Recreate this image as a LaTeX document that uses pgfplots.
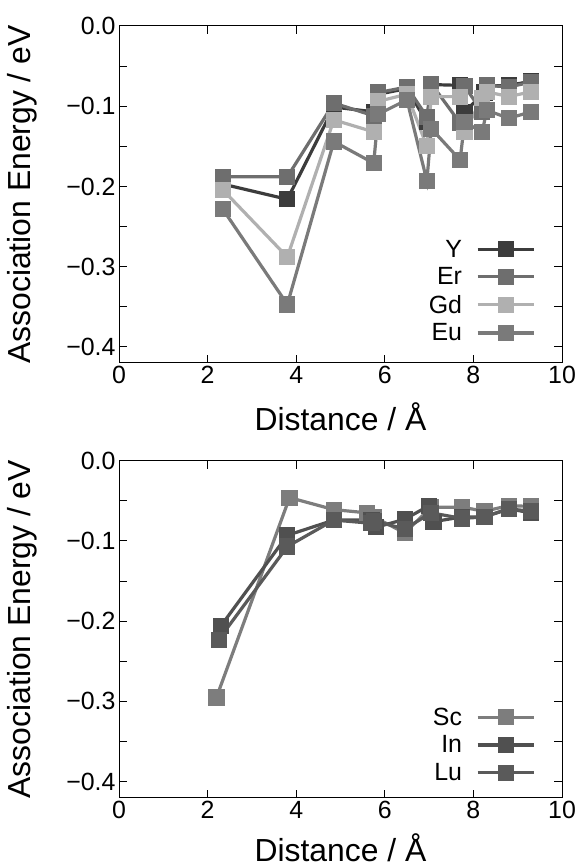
\documentclass[border=0pt]{standalone}
\usepackage{fontspec}
\setmainfont{Liberation Sans}
\usepackage{pgfplots}
\pgfplotsset{compat=1.18}

\definecolor{cY}{HTML}{3C3C3C}
\definecolor{cEr}{HTML}{6E6E6E}
\definecolor{cGd}{HTML}{B0B0B0}
\definecolor{cEu}{HTML}{7A7A7A}
\definecolor{cSc}{HTML}{7D7D7D}
\definecolor{cIn}{HTML}{505050}
\definecolor{cLu}{HTML}{5A5A5A}

\pgfplotsset{
  ceria/.style={
    width=443bp, height=337bp, scale only axis,
    xmin=0, xmax=10, ymin=-0.42, ymax=0,
    xtick={0,2,...,10},
    ytick={-0.4,-0.3,-0.2,-0.1,0},
    yticklabels={−0.4,−0.3,−0.2,−0.1,0.0},
    minor ytick={-0.35,-0.25,-0.15,-0.05},
    /pgf/number format/assume math mode=true,
    tick align=inside,
    major tick length=8bp, minor tick length=8bp,
    axis line style={line width=1bp},
    every tick/.style={line width=1bp, black},
    ticklabel style={font=\fontsize{25}{28}\selectfont},
    label style={font=\fontsize{32}{36}\selectfont},
    xlabel={Distance / Å}, ylabel={Association Energy / eV},
    x label style={at={(axis description cs:0.5,-0.16)}, anchor=center},
    y label style={at={(axis description cs:-0.219,0.5)}, anchor=center},
    legend plot pos=right,
    legend cell align=right,
    legend style={draw=none, fill=none, font=\fontsize{25}{28}\selectfont,
      row sep=5bp, anchor=south east, inner sep=0pt,
      /tikz/every odd column/.style={column sep=12bp}},
    legend image code/.code={\draw[mark repeat=2, mark phase=2, #1]
      plot coordinates {(0bp,0bp) (28bp,0bp) (56bp,0bp)};},
    every axis plot/.append style={line width=3.2bp, mark=square*, mark size=6.5bp},
  }
}

\begin{document}
\begin{tikzpicture}
\useasboundingbox (0,0) rectangle (578bp,867bp);

\begin{axis}[ceria, at={(119bp,504bp)}, anchor=south west,
  legend style={at={(axis description cs:0.94,0.055)}}]
\addplot[color=cY, mark options={fill=cY}] coordinates {
  (2.34,-0.197) (3.8,-0.216) (4.85,-0.101) (5.75,-0.107) (5.85,-0.085)
  (6.5,-0.078) (6.95,-0.120) (7.05,-0.073) (7.7,-0.074) (7.8,-0.107)
  (8.25,-0.083) (8.3,-0.075) (8.8,-0.074) (9.3,-0.069)
};
\addlegendentry{Y}
\addplot[color=cEr, mark options={fill=cEr}] coordinates {
  (2.34,-0.188) (3.8,-0.188) (4.85,-0.096) (5.75,-0.112) (5.85,-0.083)
  (6.5,-0.076) (6.95,-0.113) (7.05,-0.072) (7.7,-0.121) (7.8,-0.075)
  (8.2,-0.107) (8.3,-0.074) (8.8,-0.076) (9.3,-0.070)
};
\addlegendentry{Er}
\addplot[color=cGd, mark options={fill=cGd}] coordinates {
  (2.34,-0.204) (3.8,-0.288) (4.85,-0.117) (5.75,-0.132) (5.85,-0.094)
  (6.5,-0.085) (6.95,-0.150) (7.05,-0.088) (7.7,-0.088) (7.8,-0.132)
  (8.2,-0.090) (8.3,-0.082) (8.8,-0.088) (9.3,-0.082)
};
\addlegendentry{Gd}
\addplot[color=cEu, mark options={fill=cEu}] coordinates {
  (2.34,-0.228) (3.8,-0.347) (4.85,-0.144) (5.75,-0.171) (5.85,-0.110)
  (6.5,-0.092) (6.95,-0.193) (7.05,-0.128) (7.7,-0.167) (7.8,-0.120)
  (8.2,-0.132) (8.3,-0.105) (8.8,-0.115) (9.3,-0.107)
};
\addlegendentry{Eu}
\end{axis}

\begin{axis}[ceria, at={(119bp,69.3bp)}, anchor=south west,
  x label style={at={(axis description cs:0.5,-0.148)}},
  legend style={at={(axis description cs:0.94,0.04)}}]
\addplot[color=cSc, mark options={fill=cSc}] coordinates {
  (2.2,-0.295) (3.85,-0.046) (4.85,-0.061) (5.6,-0.065) (5.75,-0.070)
  (6.45,-0.090) (7.05,-0.058) (7.75,-0.058) (8.25,-0.063) (8.8,-0.056)
  (9.3,-0.057)
};
\addlegendentry{Sc}
\addplot[color=cIn, mark options={fill=cIn}] coordinates {
  (2.3,-0.206) (3.8,-0.093) (4.85,-0.074) (5.7,-0.074) (5.8,-0.083)
  (6.45,-0.073) (7.0,-0.056) (7.1,-0.076) (7.75,-0.070) (8.25,-0.070)
  (8.8,-0.060) (9.3,-0.065)
};
\addlegendentry{In}
\addplot[color=cLu, mark options={fill=cLu}] coordinates {
  (2.25,-0.223) (3.8,-0.107) (4.85,-0.074) (5.7,-0.078) (5.75,-0.075)
  (6.45,-0.085) (7.05,-0.065) (7.75,-0.072) (8.25,-0.070) (8.8,-0.060)
  (9.3,-0.063)
};
\addlegendentry{Lu}
\end{axis}
\end{tikzpicture}
\end{document}
